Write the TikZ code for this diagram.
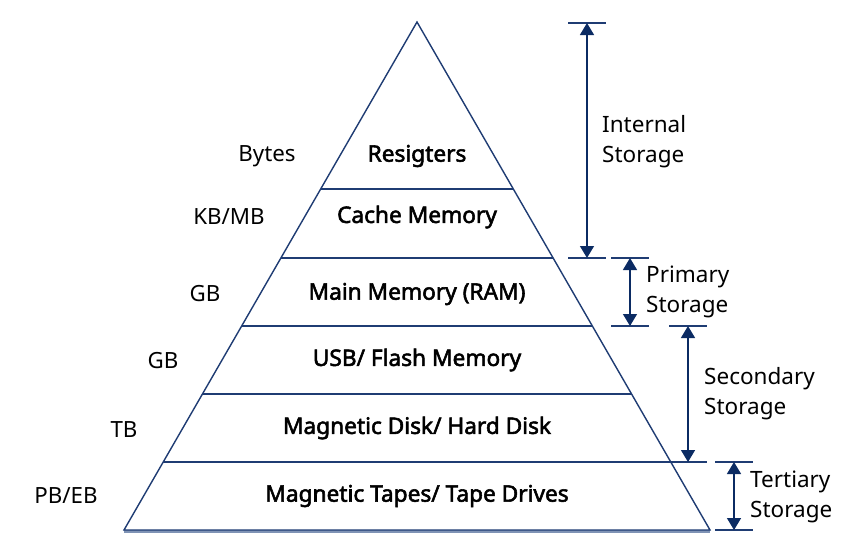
\documentclass[tikz,border=0pt]{standalone}
\usepackage{fontspec}
\setmainfont{Noto Sans}[BoldFont={Noto Sans}, BoldFeatures={FakeBold=2.4}]
\definecolor{memNavy}{HTML}{1F3C73}
\definecolor{memArrow}{HTML}{0B2B63}
\definecolor{memShadow}{HTML}{7F93B5}
\usetikzlibrary{
	arrows.meta,
	positioning,
	calc
}

\begin{document}
\begin{tikzpicture}[x=0.2mm,y=-0.2mm,
		capa/.style={font=\fontsize{12.9}{14}\selectfont\bfseries, text=black},
		tam/.style={font=\fontsize{12.7}{14}\selectfont, text=black},
		nivel/.style={font=\fontsize{12.8}{17}\selectfont, align=left, anchor=west, text=black},
		cota/.style={{Triangle[width=2.8mm,length=2.4mm]}-{Triangle[width=2.8mm,length=2.4mm]}, thick, memArrow},
		tope/.style={memNavy, thick}
	]
		\useasboundingbox (0,0) rectangle (866,556);
		
		% Piramide
		\draw[memShadow, line width=1.6pt] (124,531.5) -- (710,531.5);
		\draw[memNavy, thick] (417,22) -- (710,530) -- (124,530) -- cycle;
		
		% Divisiones de capas
		\foreach \y in {189,258,326,394,462}{
			\pgfmathsetmacro{\dx}{0.5768*(\y-22)}
			\draw[memNavy, thick] (417-\dx,\y) -- (417+\dx,\y);
		}
		
		% Nombres de capas
		\node[capa] (c1) at (417,156) {Resigters};
		\node[capa] (c2) at (417,217) {Cache Memory};
		\node[capa] (c3) at (417,294) {Main Memory (RAM)};
		\node[capa] (c4) at (417,360) {USB/ Flash Memory};
		\node[capa] (c5) at (417,428) {Magnetic Disk/ Hard Disk};
		\node[capa] (c6) at (417,496) {Magnetic Tapes/ Tape Drives};
		
		% Capacidades
		\node[tam] (t1) at (267,156) {Bytes};
		\node[tam] (t2) at (229,217) {KB/MB};
		\node[tam] (t3) at (205,294) {GB};
		\node[tam] (t4) at (163,361) {GB};
		\node[tam] (t5) at (124,430) {TB};
		\node[tam] (t6) at (66,496) {PB/EB};
		
		% Cotas de almacenamiento
		\coordinate (a1) at (587,23);  \coordinate (b1) at (587,258);
		\coordinate (a2) at (630,258); \coordinate (b2) at (630,326);
		\coordinate (a3) at (688,326); \coordinate (b3) at (688,462);
		\coordinate (a4) at (734,462); \coordinate (b4) at (734,530);
		\foreach \p in {a1,b1,a2,b2,a3,b3,a4,b4}{
			\draw[tope] ($(\p)+(-19,0)$) -- ($(\p)+(19,0)$);
		}
		\draw[cota] (a1) -- (b1);
		\draw[cota] (a2) -- (b2);
		\draw[cota] (a3) -- (b3);
		\draw[cota] (a4) -- (b4);
		
		\node[nivel] (s1) at (596,142) {Internal\\Storage};
		\node[nivel] (s2) at (640,292) {Primary\\Storage};
		\node[nivel] (s3) at (698,394) {Secondary\\Storage};
		\node[nivel] (s4) at (744,497) {Tertiary\\Storage};
		
	\end{tikzpicture}
\end{document}
